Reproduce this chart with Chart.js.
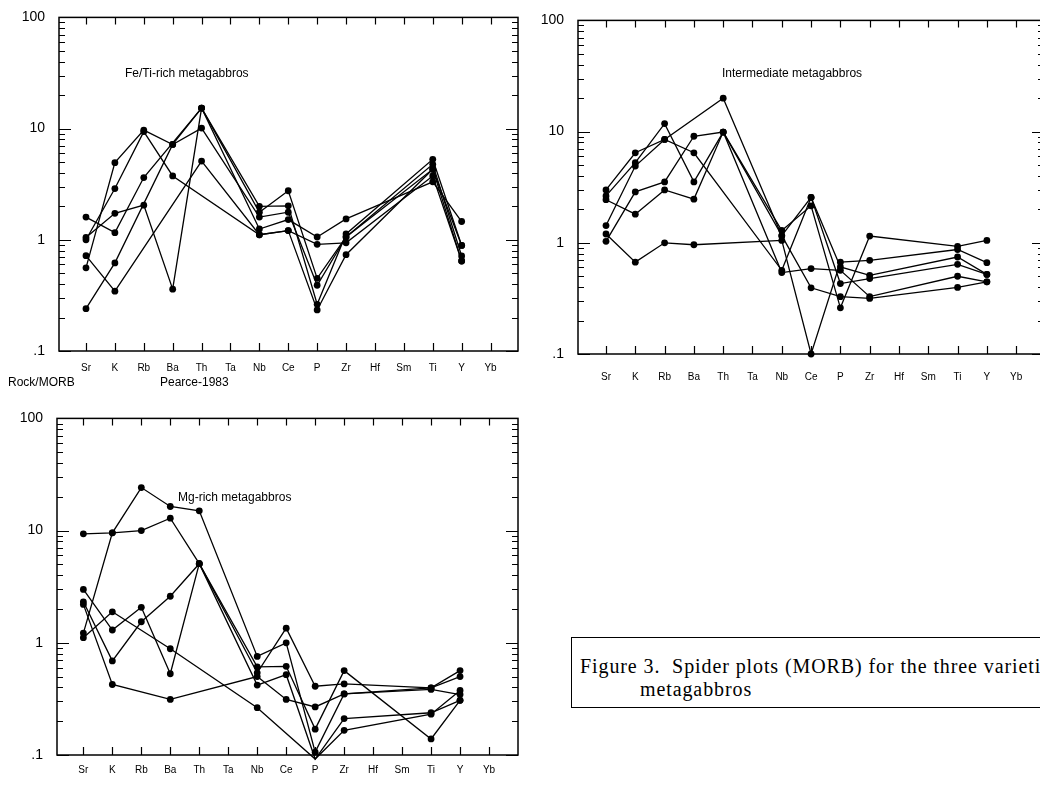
<!DOCTYPE html>
<html><head><meta charset="utf-8">
<script src="https://cdn.jsdelivr.net/npm/chart.js@4.4.1/dist/chart.umd.min.js"></script>
<style>
html,body{margin:0;padding:0;background:#fff;}
body{width:1040px;height:802px;overflow:hidden;position:relative;font-family:'Liberation Sans',Arial,sans-serif;color:#000;}
canvas{position:absolute;}
.lbl{position:absolute;white-space:nowrap;font-size:12px;line-height:14px;}
#caption{position:absolute;left:571px;top:637px;width:620px;height:71px;border:1.5px solid #000;box-sizing:border-box;font-family:'Liberation Serif','Times New Roman',serif;font-size:20px;letter-spacing:0.9px;line-height:23px;padding:17px 0 0 8px;white-space:nowrap;}
</style></head>
<body>
<canvas id="c1"></canvas>
<canvas id="c2"></canvas>
<canvas id="c3"></canvas>
<div class="lbl" style="left:125px;top:66px;">Fe/Ti-rich metagabbros</div>
<div class="lbl" style="left:722px;top:66px;">Intermediate metagabbros</div>
<div class="lbl" style="left:178px;top:490px;">Mg-rich metagabbros</div>
<div class="lbl" style="left:8px;top:375px;">Rock/MORB</div>
<div class="lbl" style="left:160px;top:375px;">Pearce-1983</div>
<div id="caption">Figure 3.&nbsp; Spider plots (MORB) for the three varieties of<br><span style="padding-left:60px">metagabbros</span></div>
<script>
// ---- data ----
const categories = ['Sr','K','Rb','Ba','Th','Ta','Nb','Ce','P','Zr','Hf','Sm','Ti','Y','Yb'];
const yTickValues = [0.1, 1, 10, 100];
const yTickLabels = ['.1', '1', '10', '100'];

// Fe/Ti-rich metagabbros
const feTi1 = [0.56, 4.94, 9.7, 7.2, 10.1, null, 1.6, 1.77, 0.39, 1.06, null, null, 4.77, 0.715, null];
const feTi2 = [1.0, 2.89, 9.4, 3.75, null, null, 1.11, 1.21, 0.91, 0.94, null, null, 3.75, 0.645, null];
const feTi3 = [1.6, 1.16, 3.63, null, 15.3, null, 2.0, 2.02, 0.263, 1.13, null, null, 5.29, 0.89, null];
const feTi4 = [1.05, 1.73, 2.05, 0.36, 15.3, null, 1.77, 2.76, 0.45, 1.06, null, null, 4.31, 0.645, null];
const feTi5 = [0.24, 0.62, null, 7.2, 15.3, null, 1.25, 1.52, 1.06, 1.54, null, null, 3.32, 1.46, null];
const feTi6 = [0.72, 0.345, null, null, 5.1, null, 1.11, 1.21, 0.234, 0.735, null, null, 4.31, 0.89, null];

// Intermediate metagabbros
const inter1 = [1.2, 0.67, 1.0, 0.96, null, null, 1.05, 0.1, 0.67, 0.695, null, null, 0.87, 0.663, null];
const inter2 = [2.99, 6.45, 8.5, 6.45, null, null, 0.566, 2.56, 0.607, 0.51, null, null, 0.745, 0.52, null];
const inter3 = [2.64, 5.26, 11.8, 3.53, 9.9, null, 1.29, 2.15, 0.26, 1.15, null, null, 0.927, 1.05, null];
const inter4 = [2.44, 1.81, 2.99, 2.47, 9.9, null, 1.16, 2.56, 0.43, 0.477, null, null, 0.64, 0.52, null];
const inter5 = [1.03, 2.87, 3.53, 9.08, 9.9, null, 0.54, 0.586, 0.566, 0.328, null, null, 0.5, 0.446, null];
const inter6 = [1.43, 4.9, 8.5, null, 20, null, 1.16, 0.394, 0.328, 0.316, null, null, 0.397, 0.446, null];

// Mg-rich metagabbros
const mg1 = [9.35, 9.55, 10.0, 12.9, 5.07, null, 0.54, 1.35, 0.41, 0.43, null, null, 0.397, 0.565, null];
const mg2 = [1.22, 9.55, 24.2, 16.4, 15.0, null, 0.756, 1.0, 0.106, 0.35, null, null, 0.384, 0.346, null];
const mg3 = [2.32, 0.69, 1.54, 2.6, 5.07, null, 0.61, 0.617, 0.17, 0.565, null, null, 0.139, 0.307, null];
const mg4 = [2.99, 1.30, 2.07, 0.53, 5.07, null, 0.42, 0.52, 0.092, 0.211, null, null, 0.238, 0.307, null];
const mg5 = [1.11, 1.89, null, 0.885, null, null, 0.264, null, 0.092, 0.166, null, null, 0.231, 0.376, null];
const mg6 = [2.2, 0.425, null, 0.313, null, null, 0.5, 0.313, 0.268, 0.35, null, null, 0.397, 0.5, null];

// ---- drawing ----
const Y_AXIS_W = 45, X_AXIS_H = 26, PAD_T = 12, PAD_R = 4;

const framePlugin = {
  id: 'frame',
  afterDraw(chart) {
    const ctx = chart.ctx, ca = chart.chartArea;
    const xs = chart.scales.x, ys = chart.scales.y;
    ctx.save();
    ctx.strokeStyle = '#000';
    ctx.lineWidth = 1.5;
    ctx.strokeRect(ca.left, ca.top, ca.right - ca.left, ca.bottom - ca.top);
    ctx.lineWidth = 1.2;
    ctx.beginPath();
    for (let e = -1; e <= 2; e++) {
      for (let m = 1; m <= 9; m++) {
        const v = m * Math.pow(10, e);
        if (v > 100.0001) break;
        const p = Math.round(ys.getPixelForValue(v)) + 0.5;
        const len = m === 1 ? 12 : 6;
        ctx.moveTo(ca.left, p); ctx.lineTo(ca.left + len, p);
        ctx.moveTo(ca.right, p); ctx.lineTo(ca.right - len, p);
      }
    }
    categories.forEach((c, i) => {
      const px = Math.round(xs.getPixelForValue(i)) + 0.5;
      ctx.moveTo(px, ca.bottom); ctx.lineTo(px, ca.bottom - 8);
      ctx.moveTo(px, ca.top); ctx.lineTo(px, ca.top + 7);
    });
    ctx.stroke();
    ctx.restore();
  }
};

function makePanel(id, series, box, xmin, xmax, labelPad) {
  const cv = document.getElementById(id);
  const W = (box.r - box.l) + Y_AXIS_W + PAD_R;
  const H = (box.b - box.t) + PAD_T + X_AXIS_H;
  cv.width = W; cv.height = H;
  cv.style.width = W + 'px'; cv.style.height = H + 'px';
  const datasets = series.map(arr => ({
    data: arr.map((v, i) => v == null ? null : { x: i, y: v }).filter(Boolean),
    borderColor: '#000',
    borderWidth: 1.3,
    pointRadius: 3.4,
    pointBackgroundColor: '#000',
    pointBorderColor: '#000',
    pointBorderWidth: 0,
    tension: 0,
    clip: false
  }));
  const chart = new Chart(cv, {
    type: 'line',
    data: { datasets },
    options: {
      responsive: false,
      animation: false,
      events: [],
      layout: { padding: { top: PAD_T, right: PAD_R, left: 0, bottom: 0 } },
      plugins: { legend: { display: false }, tooltip: { enabled: false } },
      scales: {
        x: {
          type: 'linear', min: xmin, max: xmax,
          grid: { display: false }, border: { display: false },
          afterBuildTicks: s => { s.ticks = categories.map((c, i) => ({ value: i })); },
          afterFit: s => { s.height = X_AXIS_H; },
          ticks: {
            autoSkip: false, maxRotation: 0, padding: labelPad,
            color: '#000', font: { family: "'Liberation Sans', Arial, sans-serif", size: 10 },
            callback: v => categories[v]
          }
        },
        y: {
          type: 'logarithmic', min: 0.1, max: 100,
          grid: { display: false }, border: { display: false },
          afterBuildTicks: s => { s.ticks = yTickValues.map(v => ({ value: v })); },
          afterFit: s => { s.width = Y_AXIS_W; },
          ticks: {
            padding: 6, color: '#000',
            font: { family: "'Liberation Sans', Arial, sans-serif", size: 14 },
            callback: v => yTickLabels[yTickValues.indexOf(v)]
          }
        }
      }
    },
    plugins: [framePlugin]
  });
  const ca = chart.chartArea;
  cv.style.left = (box.l - ca.left) + 'px';
  cv.style.top = (box.t - ca.top) + 'px';
  return chart;
}

makePanel('c1', [feTi1, feTi2, feTi3, feTi4, feTi5, feTi6], { l: 59, t: 17, r: 518, b: 353 }, -0.934, 14.95, 3);
makePanel('c2', [inter1, inter2, inter3, inter4, inter5, inter6], { l: 578, t: 20, r: 1044, b: 356 }, -0.956, 14.95, 9);
makePanel('c3', [mg1, mg2, mg3, mg4, mg5, mg6], { l: 57, t: 418, r: 518, b: 757 }, -0.91, 15.0, 1);
</script>
</body></html>
